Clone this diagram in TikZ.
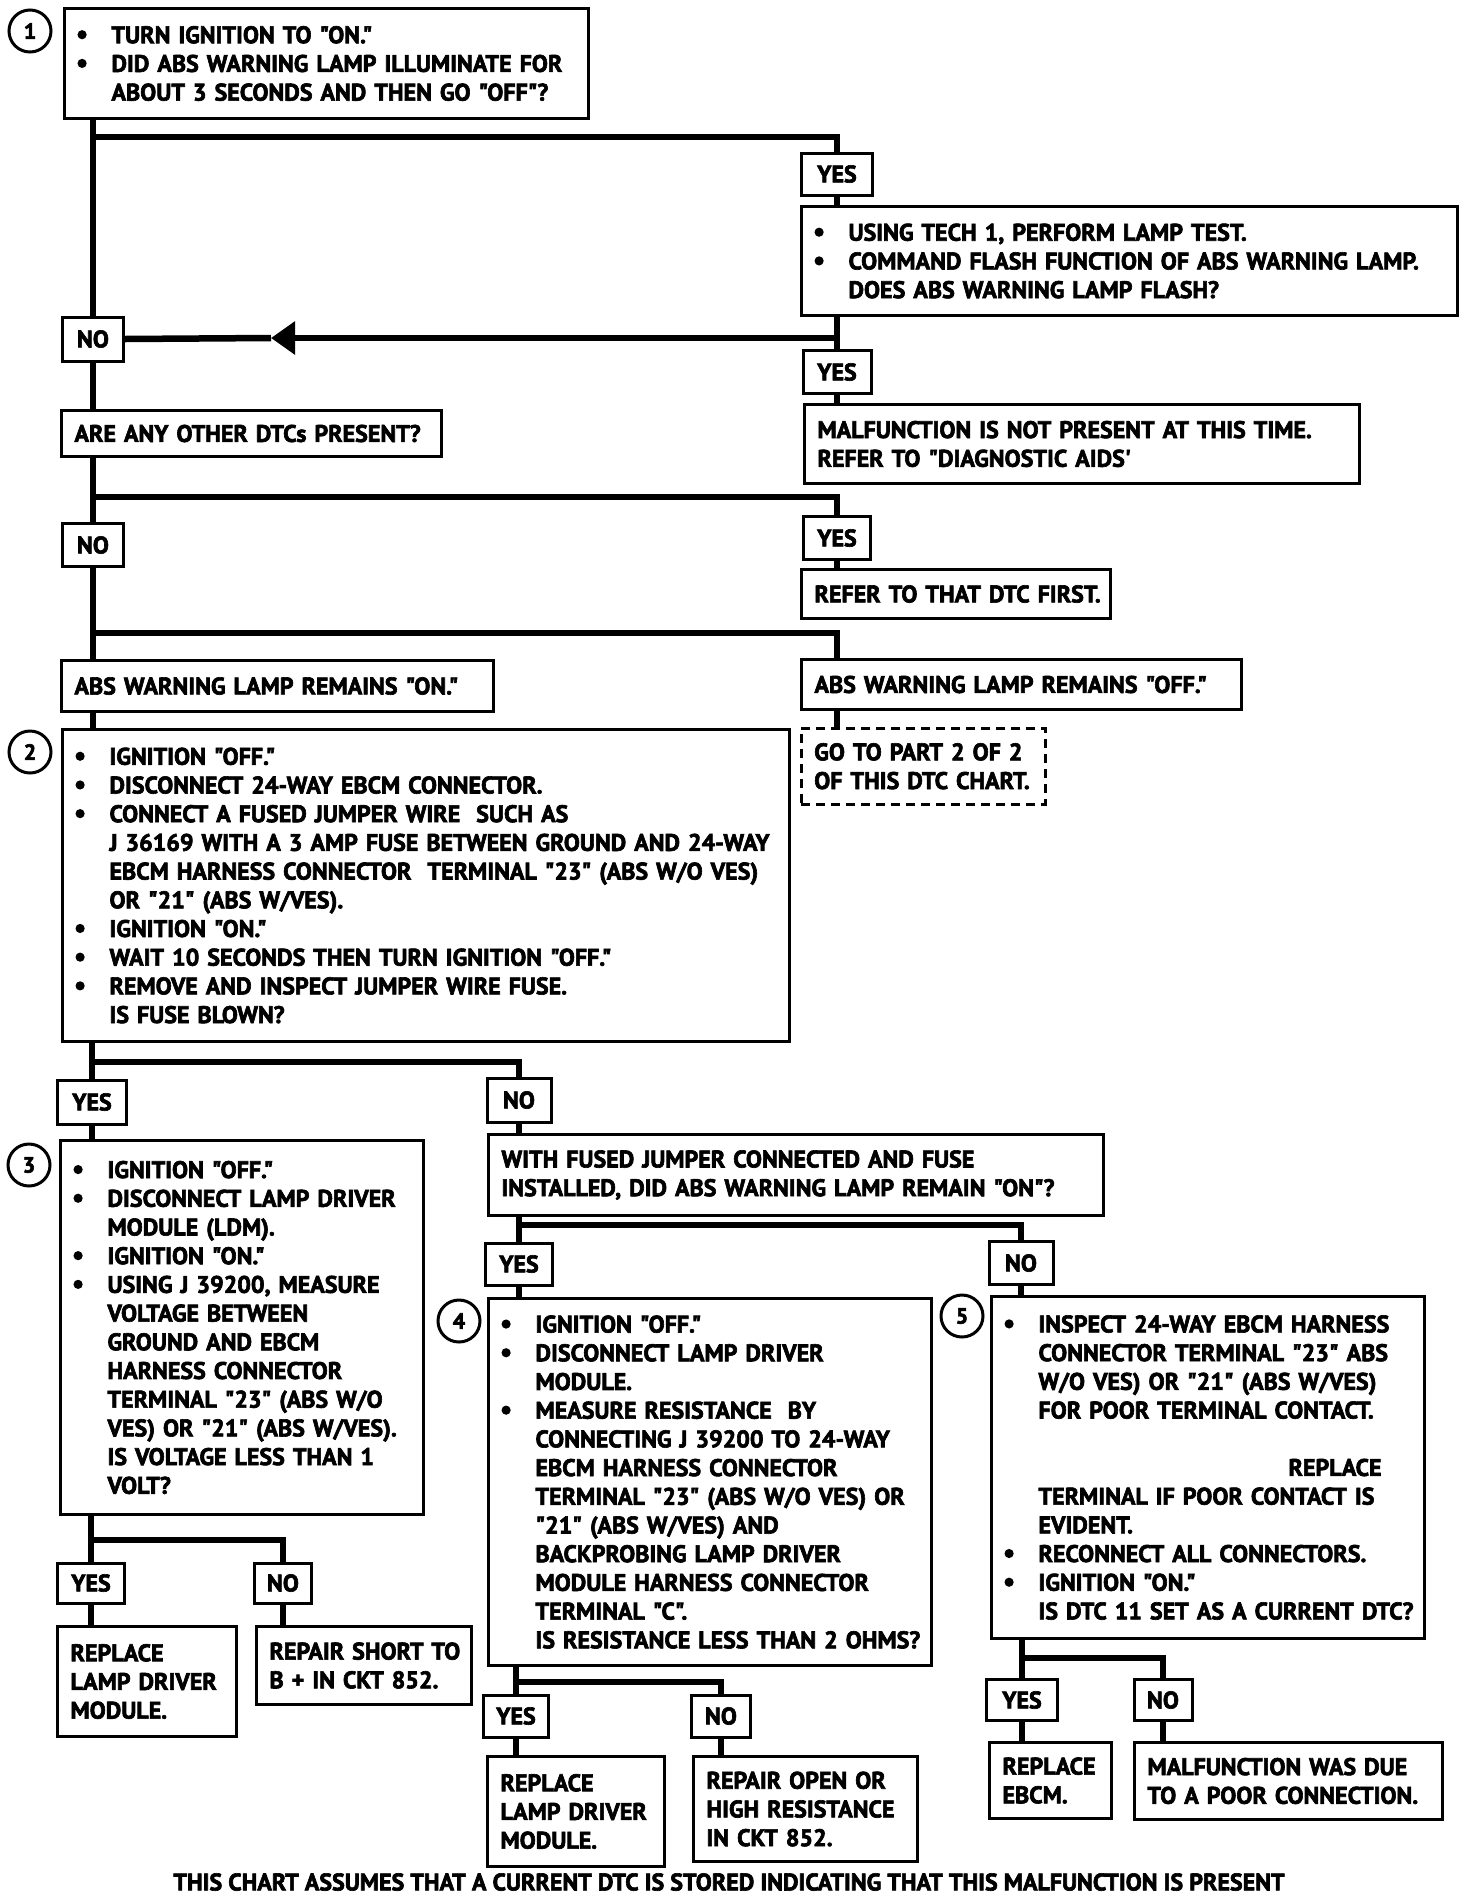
\documentclass[tikz,border=0pt]{standalone}
\usepackage{fontspec}
\setmainfont{PT Sans}[Ligatures=TeXOff, BoldFont={PT Sans Bold}, BoldFeatures={FakeBold=2.6}]
\usetikzlibrary{arrows.meta}
\newcommand{\bul}{\makebox[34pt][l]{\tikz[baseline=0pt]\fill (5pt,8.5pt) circle[radius=4.6pt];}}
\newcommand{\Bl}[1]{\mbox{\bul #1}}
\newcommand{\Il}[1]{\mbox{\hspace*{34pt}#1}}
\newcommand{\Pl}[1]{\mbox{#1}}
\tikzset{
  conn/.style={line width=6.5pt},
  box/.style={draw, line width=3pt, anchor=north west, align=left, inner xsep=13pt, inner ysep=0pt,
    font=\bfseries\fontsize{24}{28.7}\selectfont},
  dbox/.style={box, line width=2.5pt, dash pattern=on 9pt off 6pt},
  lab/.style={draw, line width=3pt, inner sep=0pt, font=\bfseries\fontsize{24}{28}\selectfont},
  num/.style={draw, circle, line width=3pt, inner sep=0pt, minimum size=42pt,
    font=\bfseries\fontsize{22}{24}\selectfont},
}
\begin{document}
\begin{tikzpicture}[x=1pt,y=1pt]
\useasboundingbox[fill=white] (0,0) rectangle (1472,-1896);

% ---- boxes ----
\node[box, minimum width=524pt, minimum height=110pt, text width=498pt] (b1) at (63,-7)
  {\Bl{TURN IGNITION TO "ON."}\\
   \Bl{DID ABS WARNING LAMP ILLUMINATE FOR}\\
   \Il{ABOUT 3 SECONDS AND THEN GO "OFF"?}};
\node[box, minimum width=656pt, minimum height=109pt, text width=630pt] (q2) at (800,-205)
  {\Bl{USING TECH 1, PERFORM LAMP TEST.}\\
   \Bl{COMMAND FLASH FUNCTION OF ABS WARNING LAMP.}\\
   \Il{DOES ABS WARNING LAMP FLASH?}};
\node[box, minimum width=555pt, minimum height=79pt, text width=529pt] (m1) at (803,-403)
  {\Pl{MALFUNCTION IS NOT PRESENT AT THIS TIME.}\\
   \Pl{REFER TO "DIAGNOSTIC AIDS'}};
\node[box, minimum width=380pt, minimum height=46pt, text width=354pt] (q3) at (60,-409)
  {\Pl{ARE ANY OTHER DTCs PRESENT?}};
\node[box, minimum width=309pt, minimum height=49pt, text width=283pt] (refer) at (800,-568)
  {\Pl{REFER TO THAT DTC FIRST.}};
\node[box, minimum width=432pt, minimum height=51pt, text width=406pt] (on) at (60,-659)
  {\Pl{ABS WARNING LAMP REMAINS "ON."}};
\node[box, minimum width=440pt, minimum height=50pt, text width=414pt] (off) at (800,-658)
  {\Pl{ABS WARNING LAMP REMAINS "OFF."}};
\node[dbox, minimum width=244pt, minimum height=76pt, text width=218pt] (dash) at (800,-727)
  {\Pl{GO TO PART 2 OF 2}\\
   \Pl{OF THIS DTC CHART.}};
\node[box, minimum width=727pt, minimum height=312pt, text width=701pt] (b2) at (61,-728)
  {\Bl{IGNITION "OFF."}\\
   \Bl{DISCONNECT 24-WAY EBCM CONNECTOR.}\\
   \Bl{CONNECT A FUSED JUMPER WIRE \ SUCH AS}\\
   \Il{J 36169 WITH A 3 AMP FUSE BETWEEN GROUND AND 24-WAY}\\
   \Il{EBCM HARNESS CONNECTOR \ TERMINAL "23" (ABS W/O VES)}\\
   \Il{OR "21" (ABS W/VES).}\\
   \Bl{IGNITION "ON."}\\
   \Bl{WAIT 10 SECONDS THEN TURN IGNITION "OFF."}\\
   \Bl{REMOVE AND INSPECT JUMPER WIRE FUSE.}\\
   \Il{IS FUSE BLOWN?}};
\node[box, minimum width=615pt, minimum height=81pt, text width=589pt] (q6) at (487,-1133)
  {\Pl{WITH FUSED JUMPER CONNECTED AND FUSE}\\
   \Pl{INSTALLED, DID ABS WARNING LAMP REMAIN "ON"?}};
\node[box, minimum width=363pt, minimum height=374pt, text width=337pt] (b3) at (59,-1139)
  {\Bl{IGNITION "OFF."}\\
   \Bl{DISCONNECT LAMP DRIVER}\\
   \Il{MODULE (LDM).}\\
   \Bl{IGNITION "ON."}\\
   \Bl{USING J 39200, MEASURE}\\
   \Il{VOLTAGE BETWEEN}\\
   \Il{GROUND AND EBCM}\\
   \Il{HARNESS CONNECTOR}\\
   \Il{TERMINAL "23" (ABS W/O}\\
   \Il{VES) OR "21" (ABS W/VES).}\\
   \Il{IS VOLTAGE LESS THAN 1}\\
   \Il{VOLT?}};
\node[box, minimum width=443pt, minimum height=367pt, text width=417pt] (b4) at (487,-1297)
  {\Bl{IGNITION "OFF."}\\
   \Bl{DISCONNECT LAMP DRIVER}\\
   \Il{MODULE.}\\
   \Bl{MEASURE RESISTANCE \ BY}\\
   \Il{CONNECTING J 39200 TO 24-WAY}\\
   \Il{EBCM HARNESS CONNECTOR}\\
   \Il{TERMINAL "23" (ABS W/O VES) OR}\\
   \Il{"21" (ABS W/VES) AND}\\
   \Il{BACKPROBING LAMP DRIVER}\\
   \Il{MODULE HARNESS CONNECTOR}\\
   \Il{TERMINAL "C".}\\
   \Il{IS RESISTANCE LESS THAN 2 OHMS?}};
\node[box, minimum width=433pt, minimum height=342pt, text width=407pt] (b5) at (990,-1295)
  {\Bl{INSPECT 24-WAY EBCM HARNESS}\\
   \Il{CONNECTOR TERMINAL "23" ABS}\\
   \Il{W/O VES) OR "21" (ABS W/VES)}\\
   \Il{FOR POOR TERMINAL CONTACT.}\\
   \mbox{}\\
   \Il{\hspace*{250pt}REPLACE}\\
   \Il{TERMINAL IF POOR CONTACT IS}\\
   \Il{EVIDENT.}\\
   \Bl{RECONNECT ALL CONNECTORS.}\\
   \Bl{IGNITION "ON."}\\
   \Il{IS DTC 11 SET AS A CURRENT DTC?}};
\node[box, minimum width=179pt, minimum height=110pt, text width=153pt] (r1) at (56,-1625)
  {\Pl{REPLACE}\\ \Pl{LAMP DRIVER}\\ \Pl{MODULE.}};
\node[box, minimum width=215pt, minimum height=78pt, text width=189pt] (r2) at (255,-1625)
  {\Pl{REPAIR SHORT TO}\\ \Pl{B + IN CKT 852.}};
\node[box, minimum width=177pt, minimum height=110pt, text width=151pt] (r3) at (486,-1755)
  {\Pl{REPLACE}\\ \Pl{LAMP DRIVER}\\ \Pl{MODULE.}};
\node[box, minimum width=224pt, minimum height=105pt, text width=198pt] (r4) at (692,-1755)
  {\Pl{REPAIR OPEN OR}\\ \Pl{HIGH RESISTANCE}\\ \Pl{IN CKT 852.}};
\node[box, minimum width=122pt, minimum height=76pt, text width=96pt] (r5) at (988,-1741)
  {\Pl{REPLACE}\\ \Pl{EBCM.}};
\node[box, minimum width=308pt, minimum height=77pt, text width=282pt] (r6) at (1133,-1741)
  {\Pl{MALFUNCTION WAS DUE}\\ \Pl{TO A POOR CONNECTION.}};

% ---- YES / NO labels ----
\node[lab, minimum width=71pt, minimum height=42pt] (yes1) at (837,-174) {YES};
\node[lab, minimum width=61pt, minimum height=44pt] (no1) at (93,-339) {NO};
\node[lab, minimum width=68pt, minimum height=43pt] (yes2) at (837,-372) {YES};
\node[lab, minimum width=61pt, minimum height=43pt] (no2) at (93,-545) {NO};
\node[lab, minimum width=67pt, minimum height=43pt] (yes3) at (837,-538) {YES};
\node[lab, minimum width=69pt, minimum height=44pt] (yes4) at (92,-1102) {YES};
\node[lab, minimum width=64pt, minimum height=44pt] (no6) at (519,-1100) {NO};
\node[lab, minimum width=67pt, minimum height=42pt] (yes7) at (519,-1264) {YES};
\node[lab, minimum width=64pt, minimum height=43pt] (no7) at (1021,-1263) {NO};
\node[lab, minimum width=67pt, minimum height=40pt] (yes8) at (91,-1583) {YES};
\node[lab, minimum width=57pt, minimum height=40pt] (no8) at (283,-1583) {NO};
\node[lab, minimum width=65pt, minimum height=42pt] (yes9) at (516,-1716) {YES};
\node[lab, minimum width=59pt, minimum height=42pt] (no9) at (721,-1716) {NO};
\node[lab, minimum width=71pt, minimum height=41pt] (yes11) at (1022,-1700) {YES};
\node[lab, minimum width=58pt, minimum height=41pt] (no11) at (1163,-1700) {NO};

% ---- step numbers ----
\node[num] (c1) at (30,-31) {1};
\node[num] (c2) at (30,-752) {2};
\node[num] (c3) at (29,-1165) {3};
\node[num] (c4) at (459,-1321) {4};
\node[num] (c5) at (962,-1316) {5};

% ---- junctions ----
\coordinate (j1) at (93,-137);
\coordinate (j2) at (837,-338);
\coordinate (a1) at (271,-338);
\coordinate (j3) at (93,-497);
\coordinate (j4) at (93,-633);
\coordinate (j5) at (92,-1062);
\coordinate (j7) at (519,-1225);
\coordinate (j6) at (91,-1540);
\coordinate (j8) at (516,-1682);
\coordinate (j9) at (1022,-1658);

% ---- connectors ----
\draw[conn] (b1.south -| no1) -- (no1.north);
\draw[conn] (j1) -| (yes1.north);
\draw[conn] (yes1.south) -- (q2.north -| yes1);
\draw[conn] (q2.south -| yes2) -- (yes2.north);
\draw[conn, -{Triangle[length=24pt, width=32pt]}] (j2) -- (a1);
\draw[conn] (a1) -- (no1.east);
\draw[conn] (yes2.south) -- (m1.north -| yes2);
\draw[conn] (no1.south) -- (q3.north -| no1);
\draw[conn] (q3.south -| no2) -- (no2.north);
\draw[conn] (j3) -| (yes3.north);
\draw[conn] (yes3.south) -- (refer.north -| yes3);
\draw[conn] (no2.south) -- (on.north -| no2);
\draw[conn] (j4) -| (off.north -| yes3);
\draw[conn] (off.south -| yes3) -- (dash.north -| yes3);
\draw[conn] (on.south -| no2) -- (b2.north -| no2);
\draw[conn] (b2.south -| yes4) -- (yes4.north);
\draw[conn] (j5) -| (no6.north);
\draw[conn] (yes4.south) -- (b3.north -| yes4);
\draw[conn] (no6.south) -- (q6.north -| no6);
\draw[conn] (q6.south -| yes7) -- (yes7.north);
\draw[conn] (j7) -| (no7.north);
\draw[conn] (yes7.south) -- (b4.north -| yes7);
\draw[conn] (no7.south) -- (b5.north -| no7);
\draw[conn] (b3.south -| yes8) -- (yes8.north);
\draw[conn] (j6) -| (no8.north);
\draw[conn] (yes8.south) -- (r1.north -| yes8);
\draw[conn] (no8.south) -- (r2.north -| no8);
\draw[conn] (b4.south -| yes9) -- (yes9.north);
\draw[conn] (j8) -| (no9.north);
\draw[conn] (yes9.south) -- (r3.north -| yes9);
\draw[conn] (no9.south) -- (r4.north -| no9);
\draw[conn] (b5.south -| yes11) -- (yes11.north);
\draw[conn] (j9) -| (no11.north);
\draw[conn] (yes11.south) -- (r5.north -| yes11);
\draw[conn] (no11.south) -- (r6.north -| no11);

% ---- footer ----
\node[font=\bfseries\fontsize{24}{28}\selectfont] (foot) at (729,-1882)
  {THIS CHART ASSUMES THAT A CURRENT DTC IS STORED INDICATING THAT THIS MALFUNCTION IS PRESENT};
\end{tikzpicture}
\end{document}
